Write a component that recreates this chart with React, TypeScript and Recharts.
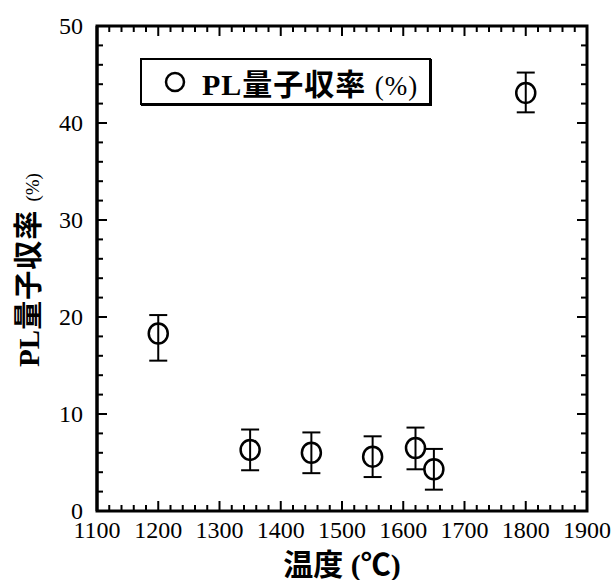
import { ScatterChart, Scatter, XAxis, YAxis, ErrorBar } from 'recharts'

// values
const temperatures = [1200, 1350, 1450, 1550, 1620, 1650, 1800]
const plYield = [18.3, 6.3, 6.0, 5.6, 6.5, 4.3, 43.1]
const yieldErr = [
  [2.8, 1.9],
  [2.1, 2.1],
  [2.1, 2.1],
  [2.1, 2.1],
  [2.2, 2.1],
  [2.1, 2.1],
  [2.0, 2.1],
]

const xMajor = [1100, 1200, 1300, 1400, 1500, 1600, 1700, 1800, 1900]
const yMajor = [0, 10, 20, 30, 40, 50]
const xMinor = xMajor.slice(0, -1).flatMap((v) => [v + 20, v + 40, v + 60, v + 80])
const yMinor = yMajor.slice(0, -1).flatMap((v) => [v + 2, v + 4, v + 6, v + 8])

const data = temperatures.map((t, i) => ({ x: t, y: plYield[i], err: yieldErr[i] }))

// tick marks are placed through the chart scales as tiny line "points" on the frame
const X0 = 1100
const X1 = 1900
const Y0 = 0
const Y1 = 50
const bottomMajor = xMajor.map((v) => ({ x: v, y: Y0 }))
const bottomMinor = xMinor.map((v) => ({ x: v, y: Y0 }))
const topMajor = xMajor.map((v) => ({ x: v, y: Y1 }))
const topMinor = xMinor.map((v) => ({ x: v, y: Y1 }))
const leftMajor = yMajor.map((v) => ({ x: X0, y: v }))
const leftMinor = yMinor.map((v) => ({ x: X0, y: v }))
const rightMajor = yMajor.map((v) => ({ x: X1, y: v }))
const rightMinor = yMinor.map((v) => ({ x: X1, y: v }))

const SERIF = '"Liberation Serif", "Noto Sans CJK JP", serif'
const NUM_FONT = '"Liberation Serif", serif'

// plot frame (pixels): margins + axis sizes
const PLOT = { left: 97, top: 26, right: 587, bottom: 511 }

const tickShape = (dx: number, dy: number) => (props: any) => {
  const { cx, cy } = props
  return <line x1={cx} y1={cy} x2={cx + dx} y2={cy + dy} stroke="#000" strokeWidth={2} />
}

const bottomLabel = (props: any) => {
  const { x, y, payload } = props
  return (
    <text x={x} y={y + 27} textAnchor="middle" fontSize={24} fontFamily={NUM_FONT} fill="#000">
      {payload.value}
    </text>
  )
}

const leftLabel = (props: any) => {
  const { x, y, payload } = props
  return (
    <text x={x - 14} y={y + 8} textAnchor="end" fontSize={24} fontFamily={NUM_FONT} fill="#000">
      {payload.value}
    </text>
  )
}

const marker = ({ cx, cy }: any) => (
  <ellipse cx={cx} cy={cy} rx={9.5} ry={10} fill="none" stroke="#000" strokeWidth={2.5} />
)

const tickSeries: [any[], number, number][] = [
  [bottomMajor, 0, -10],
  [bottomMinor, 0, -6],
  [topMajor, 0, 10],
  [topMinor, 0, 6],
  [leftMajor, 10, 0],
  [leftMinor, 6, 0],
  [rightMajor, -10, 0],
  [rightMinor, -6, 0],
]

export default function App() {
  return (
    <div style={{ position: 'absolute', left: 0, top: 0, width: 614, height: 580 }}>
      <ScatterChart width={614} height={580} margin={{ top: 26, right: 27, bottom: 0, left: 0 }}>
        <XAxis
          dataKey="x"
          type="number"
          domain={[X0, X1]}
          ticks={xMajor}
          interval={0}
          tickSize={0}
          tickMargin={0}
          tickLine={false}
          tick={bottomLabel}
          stroke="#000"
          height={69}
        />
        <YAxis
          dataKey="y"
          type="number"
          domain={[Y0, Y1]}
          ticks={yMajor}
          interval={0}
          tickSize={0}
          tickMargin={0}
          tickLine={false}
          tick={leftLabel}
          axisLine={{ stroke: '#000', strokeWidth: 3 }}
          width={97}
        />
        {tickSeries.map(([pts, dx, dy], i) => (
          <Scatter
            key={i}
            data={pts}
            shape={tickShape(dx, dy)}
            isAnimationActive={false}
            legendType="none"
          />
        ))}
        <Scatter data={data} shape={marker} isAnimationActive={false}>
          <ErrorBar dataKey="err" direction="y" width={9} stroke="#000" strokeWidth={2} isAnimationActive={false} />
        </Scatter>
      </ScatterChart>

      {/* frame and axis titles */}
      <svg width={614} height={580} style={{ position: 'absolute', left: 0, top: 0, pointerEvents: 'none' }}>
        <rect
          x={PLOT.left}
          y={PLOT.top}
          width={PLOT.right - PLOT.left}
          height={PLOT.bottom - PLOT.top}
          fill="none"
          stroke="#000"
          strokeWidth={3}
        />
        <text x={342} y={575} textAnchor="middle" fontFamily={SERIF} fontSize={30} fontWeight="bold" fill="#000">
          温度 (℃)
        </text>
        <text
          transform="translate(39, 270) rotate(-90)"
          textAnchor="middle"
          fontFamily={SERIF}
          fontSize={29}
          fontWeight="bold"
          fill="#000"
        >
          PL<tspan letterSpacing={1}>量子収率 </tspan>
          <tspan fontSize={19} fontWeight="normal">(%)</tspan>
        </text>
      </svg>

      {/* legend */}
      <div
        style={{
          position: 'absolute',
          left: 140,
          top: 58,
          width: 287,
          height: 43,
          border: '2px solid #000',
          boxShadow: '1px 1px 0 #000',
          background: '#fff',
          display: 'flex',
          alignItems: 'center',
          fontFamily: SERIF,
          color: '#000',
        }}
      >
        <svg width={60} height={43} style={{ flex: 'none' }}>
          <circle cx={33} cy={22} r={9} fill="none" stroke="#000" strokeWidth={2.5} />
        </svg>
        <span style={{ fontSize: 30, fontWeight: 'bold', whiteSpace: 'nowrap', letterSpacing: 1 }}>
          PL量子収率 <span style={{ fontWeight: 'normal', fontSize: 27 }}>(%)</span>
        </span>
      </div>
    </div>
  )
}
